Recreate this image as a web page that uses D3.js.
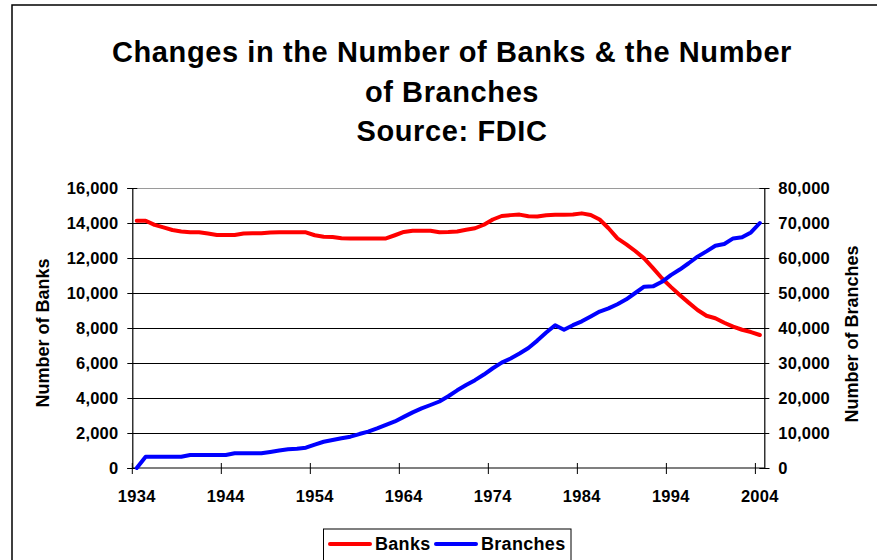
<!DOCTYPE html>
<html>
<head>
<meta charset="utf-8">
<script src="https://cdn.jsdelivr.net/npm/d3@7"></script>
<style>
  html, body { margin: 0; padding: 0; background: #fff; }
  svg { display: block; font-family: "Liberation Sans", Arial, sans-serif; font-weight: bold; }
</style>
</head>
<body>
<svg id="chart" width="877" height="560"></svg>
<script>
const years = d3.range(1934, 2005);
const banks = [
  14130, 14130, 13890, 13750, 13600, 13520, 13470, 13470, 13400, 13320,
  13310, 13310, 13400, 13410, 13410, 13460, 13470, 13470, 13470, 13470,
  13300, 13220, 13200, 13130, 13120, 13120, 13120, 13120, 13120, 13300,
  13490, 13560, 13560, 13560, 13470, 13480, 13510, 13610, 13700, 13900,
  14200, 14400, 14450, 14480, 14390, 14370, 14440, 14470, 14470, 14480,
  14550, 14460, 14200, 13700, 13120, 12780, 12400, 11980, 11420, 10840,
  10350, 9890, 9450, 9030, 8700, 8560, 8300, 8080, 7900, 7770,
  7600
];
const branches = [
  0, 3230, 3230, 3230, 3230, 3230, 3710, 3710, 3710, 3710,
  3710, 4190, 4190, 4190, 4200, 4600, 5000, 5330, 5500, 5810,
  6700, 7500, 8000, 8500, 8950, 9700, 10380, 11300, 12290, 13300,
  14600, 15900, 17050, 18000, 19000, 20500, 22200, 23700, 25100, 26700,
  28500, 30100, 31300, 32700, 34300, 36400, 38700, 40800, 39500, 40800,
  41900, 43300, 44700, 45600, 46800, 48200, 50000, 51800, 51900, 53200,
  55100, 56700, 58500, 60400, 61900, 63500, 64000, 65600, 65900, 67300,
  70000
];
const xTickYears = [1934, 1944, 1954, 1964, 1974, 1984, 1994, 2004];
const leftTicks = [0, 2000, 4000, 6000, 8000, 10000, 12000, 14000, 16000];
const rightTicks = [0, 10000, 20000, 30000, 40000, 50000, 60000, 70000, 80000];
const titleLines = ["Changes in the Number of Banks & the Number", "of Branches", "Source: FDIC"];
const seriesNames = ["Banks", "Branches"];
const seriesColors = ["#ff0000", "#0000ff"];

const svg = d3.select("#chart");
const L = 132.3, R = 764.3, T = 188, B = 468;

const x = d3.scaleBand().domain(years).range([L, R]).padding(0);
const yL = d3.scaleLinear().domain([0, 16000]).range([B, T]);
const yR = d3.scaleLinear().domain([0, 80000]).range([B, T]);
const fmt = d3.format(",");

// outer frame
svg.append("rect").attr("x", 12).attr("y", 5).attr("width", 900).attr("height", 600)
  .attr("fill", "none").attr("stroke", "#000").attr("stroke-width", 1.5);

// title
svg.append("g").selectAll("text").data(titleLines).join("text")
  .attr("x", 452).attr("y", (d, i) => 62 + i * 39.5)
  .attr("text-anchor", "middle").attr("font-size", 29).attr("letter-spacing", 0.6)
  .text(d => d);

// gridlines
svg.append("g").selectAll("line").data(leftTicks.filter(d => d > 0)).join("line")
  .attr("x1", L).attr("x2", R)
  .attr("y1", d => Math.round(yL(d)) + 0.5).attr("y2", d => Math.round(yL(d)) + 0.5)
  .attr("stroke", d => d === 16000 ? "#9a9a9a" : "#000").attr("stroke-width", 1);

// left axis
const gL = svg.append("g").attr("transform", `translate(${L},0)`)
  .call(d3.axisLeft(yL).tickValues(leftTicks).tickFormat(fmt).tickSize(5).tickPadding(9));
gL.select(".domain").attr("stroke", "#000").attr("stroke-width", 1.2);
gL.selectAll(".tick line").attr("x2", 5).attr("x1", -5).attr("stroke", "#000");
gL.selectAll(".tick text").attr("font-size", 16.5).attr("font-family", "Liberation Sans, Arial, sans-serif")
  .attr("font-weight", "bold").attr("fill", "#000").attr("letter-spacing", 0.2);

// right axis
const gR = svg.append("g").attr("transform", `translate(${R},0)`)
  .call(d3.axisRight(yR).tickValues(rightTicks).tickFormat(fmt).tickSize(5).tickPadding(9));
gR.select(".domain").attr("stroke", "#000").attr("stroke-width", 1.2);
gR.selectAll(".tick line").attr("x1", -5).attr("x2", 5).attr("stroke", "#000");
gR.selectAll(".tick text").attr("font-size", 16.5).attr("font-family", "Liberation Sans, Arial, sans-serif")
  .attr("font-weight", "bold").attr("fill", "#000").attr("letter-spacing", 0.2);

// bottom axis
const gB = svg.append("g").attr("transform", `translate(0,${B})`);
gB.append("line").attr("x1", L).attr("x2", R).attr("y1", 0).attr("y2", 0)
  .attr("stroke", "#000").attr("stroke-width", 1.2);
gB.selectAll("line.tk").data(xTickYears).join("line").attr("class", "tk")
  .attr("x1", d => x(d)).attr("x2", d => x(d)).attr("y1", -5).attr("y2", 6)
  .attr("stroke", "#000");
gB.selectAll("text").data(xTickYears).join("text")
  .attr("x", d => x(d) + x.bandwidth() / 2).attr("y", 33.5)
  .attr("text-anchor", "middle").attr("font-size", 16.5).attr("letter-spacing", 0.3)
  .text(d => d);

// axis titles
svg.append("text").attr("transform", "translate(49,333) rotate(-90)")
  .attr("text-anchor", "middle").attr("font-size", 18).text("Number of Banks");
svg.append("text").attr("transform", "translate(858,334) rotate(-90)")
  .attr("text-anchor", "middle").attr("font-size", 18).text("Number of Branches");

// lines
const cx = d => x(d) + x.bandwidth() / 2;
const lineL = d3.line().x((d, i) => cx(years[i])).y(d => yL(d));
const lineR = d3.line().x((d, i) => cx(years[i])).y(d => yR(d));
svg.append("path").datum(banks).attr("d", lineL)
  .attr("fill", "none").attr("stroke", seriesColors[0]).attr("stroke-width", 4)
  .attr("stroke-linejoin", "round").attr("stroke-linecap", "round");
svg.append("path").datum(branches).attr("d", lineR)
  .attr("fill", "none").attr("stroke", seriesColors[1]).attr("stroke-width", 4)
  .attr("stroke-linejoin", "round").attr("stroke-linecap", "round");

// legend
const lg = svg.append("g");
lg.append("rect").attr("x", 323.5).attr("y", 529).attr("width", 247.5).attr("height", 60)
  .attr("fill", "#fff").attr("stroke", "#000").attr("stroke-width", 1);
const legX = [330, 436];
seriesNames.forEach((n, i) => {
  lg.append("line").attr("x1", legX[i]).attr("x2", legX[i] + 40).attr("y1", 544).attr("y2", 544)
    .attr("stroke", seriesColors[i]).attr("stroke-width", 4).attr("stroke-linecap", "round");
  lg.append("text").attr("x", legX[i] + 45).attr("y", 550).attr("font-size", 18).attr("letter-spacing", 0.3)
    .text(n);
});
</script>
</body>
</html>
